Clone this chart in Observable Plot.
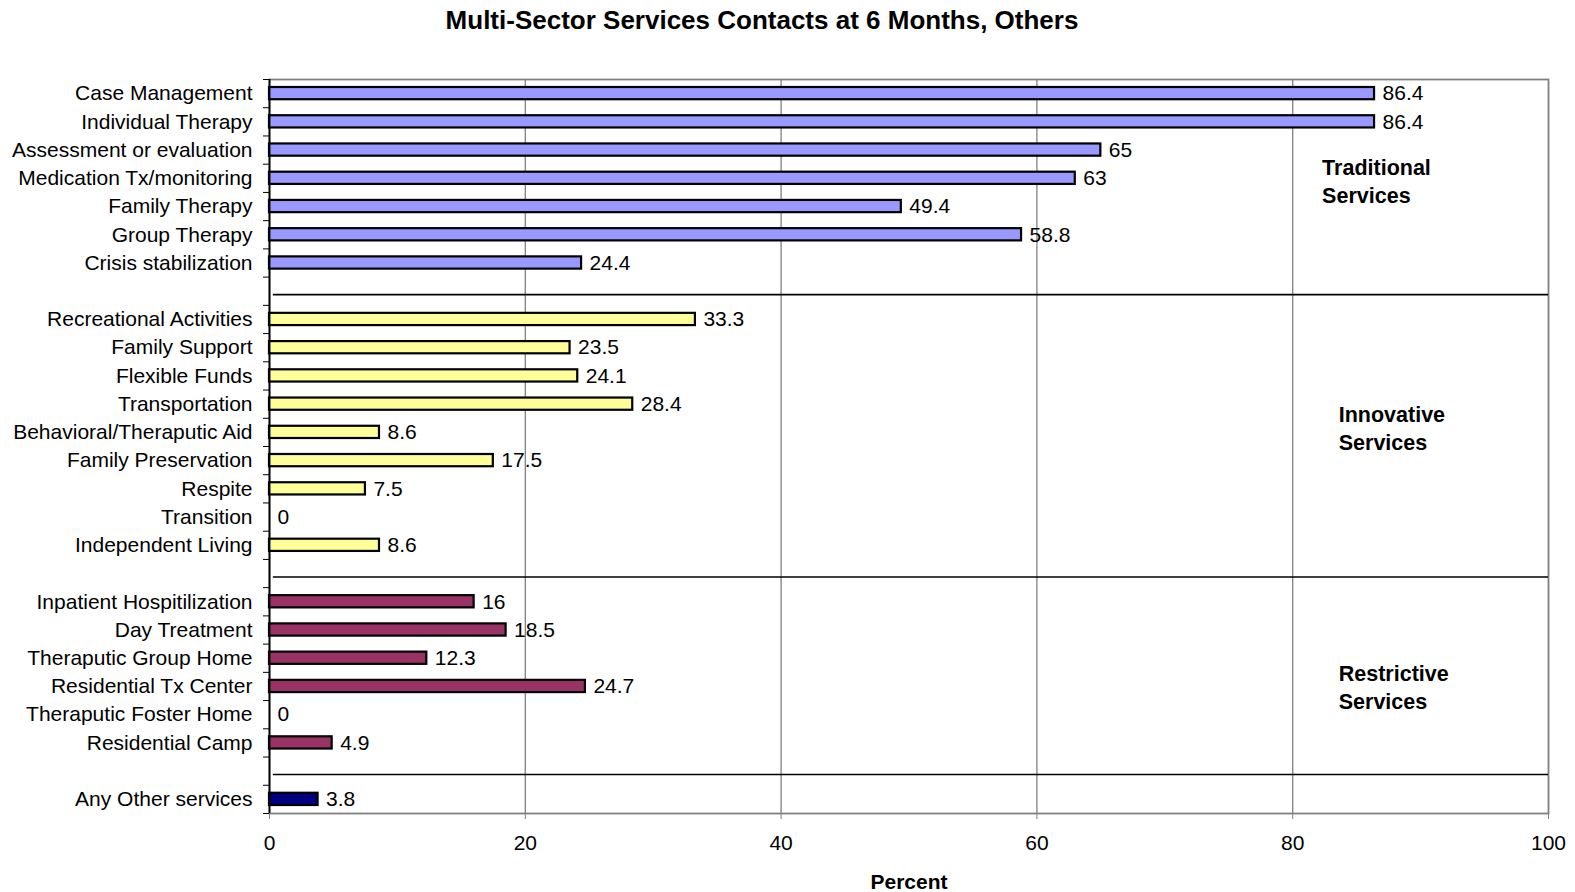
<!DOCTYPE html>
<html>
<head>
<meta charset="utf-8">
<script src="https://cdn.jsdelivr.net/npm/d3@7"></script>
<script src="https://cdn.jsdelivr.net/npm/@observablehq/plot@0.6"></script>
<style>
  html, body { margin: 0; padding: 0; background: #fff; }
  body { width: 1575px; height: 892px; overflow: hidden; font-family: "Liberation Sans", Arial, sans-serif; position: relative; }
  #title { position: absolute; top: 0; left: 262px; width: 1000px; height: 40px; line-height: 40px; text-align: center; font-weight: bold; font-size: 26px; color: #000; }
  #chart { position: absolute; top: 40px; left: 0; }
  svg { display: block; }
</style>
</head>
<body>
<div id="title">Multi-Sector Services Contacts at 6 Months, Others</div>
<div id="chart"></div>
<script>
// ---- data ----
const traditionalNames = ["Case Management", "Individual Therapy", "Assessment or evaluation", "Medication Tx/monitoring", "Family Therapy", "Group Therapy", "Crisis stabilization"];
const traditionalValues = [86.4, 86.4, 65, 63, 49.4, 58.8, 24.4];
const innovativeNames = ["Recreational Activities", "Family Support", "Flexible Funds", "Transportation", "Behavioral/Theraputic Aid", "Family Preservation", "Respite", "Transition", "Independent Living"];
const innovativeValues = [33.3, 23.5, 24.1, 28.4, 8.6, 17.5, 7.5, 0, 8.6];
const restrictiveNames = ["Inpatient Hospitilization", "Day Treatment", "Theraputic Group Home", "Residential Tx Center", "Theraputic Foster Home", "Residential Camp"];
const restrictiveValues = [16, 18.5, 12.3, 24.7, 0, 4.9];
const otherNames = ["Any Other services"];
const otherValues = [3.8];
const groupColors = ["#9999ff", "#ffff99", "#993366", "#000080"];
const groupTitles = ["Traditional\nServices", "Innovative\nServices", "Restrictive\nServices", null];
const xTicks = [0, 20, 40, 60, 80, 100];

// ---- build rows (one empty row between groups) ----
const groups = [
  [traditionalNames, traditionalValues],
  [innovativeNames, innovativeValues],
  [restrictiveNames, restrictiveValues],
  [otherNames, otherValues]
];
const rows = [];
const separators = [];
const groupLabels = [];
let idx = 0;
groups.forEach(([names, values], g) => {
  const start = idx;
  names.forEach((n, k) => { rows.push({name: n, value: values[k], i: idx, g}); idx++; });
  if (groupTitles[g]) groupLabels.push({text: groupTitles[g], g});
  if (g < groups.length - 1) { separators.push({i: idx}); idx++; }
});
const nRows = idx;

// annotation placement (data units) for the group titles
const groupLabelX = [82.3, 83.6, 83.6];
const groupLabelY = [3.55, 12.3, 21.5];

const W = 1575, H = 852;
const chart = Plot.plot({
  width: W,
  height: H,
  marginTop: 39,
  marginBottom: 79,
  marginLeft: 269,
  marginRight: 27,
  style: {fontFamily: "'Liberation Sans', Arial, sans-serif", fontSize: "21px", color: "#000", background: "#fff"},
  x: {domain: [0, 100], ticks: xTicks},
  y: {domain: [0, nRows], reverse: true},
  marks: [
    Plot.gridX(xTicks.slice(1, -1), {stroke: "#808080", strokeOpacity: 1, strokeWidth: 1.3}),
    Plot.frame({stroke: "#808080", strokeWidth: 1.8}),
    Plot.ruleY(separators, {y: d => d.i + 0.62, x1: 0.3, x2: 100, stroke: "#000", strokeWidth: 1.6}),
    Plot.rectX(rows.filter(d => d.value > 0), {
      x1: 0, x2: "value", y1: "i", y2: d => d.i + 1,
      insetTop: 8, insetBottom: 8,
      fill: d => groupColors[d.g], stroke: "#000", strokeWidth: 2.2
    }),
    Plot.text(rows, {x: "value", y: d => d.i + 0.5, text: d => String(d.value), textAnchor: "start", dx: 8, fontSize: 21}),
    Plot.text(rows, {x: 0, y: d => d.i + 0.5, text: "name", textAnchor: "end", dx: -17, fontSize: 21}),
    Plot.text(groupLabels, {x: d => groupLabelX[d.g], y: d => groupLabelY[d.g], text: "text", textAnchor: "start", fontWeight: "bold", fontSize: 21.5, lineHeight: 1.3}),
    Plot.axisY({ticks: d3.range(0, nRows + 1), tickFormat: () => "", tickSize: 6, stroke: "#000", label: null}),
    Plot.ruleX([0], {stroke: "#000", strokeWidth: 1.8}),
    Plot.axisX({ticks: xTicks, tickSize: 6, tickPadding: 16, fontSize: 21, label: null, stroke: "#808080"}),
    Plot.text(["Percent"], {frameAnchor: "bottom", dy: 75, fontWeight: "bold", fontSize: 21})
  ]
});
document.getElementById("chart").appendChild(chart);
</script>
</body>
</html>
